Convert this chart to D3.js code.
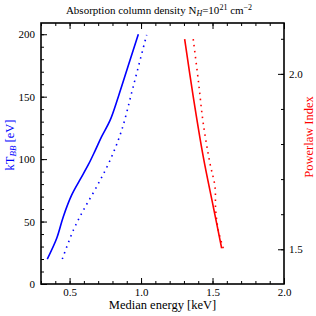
<!DOCTYPE html>
<html>
<head>
<meta charset="utf-8">
<script src="https://cdn.jsdelivr.net/npm/d3@7"></script>
<style>
  body { margin: 0; background: #fff; }
  svg text { font-family: "Liberation Serif", "DejaVu Serif", serif !important; }
</style>
</head>
<body>
<div id="chart"></div>
<script>
// blackbody temperature vs median energy
const bbSolidE  = [0.344, 0.410, 0.456, 0.515, 0.573, 0.631, 0.678, 0.724, 0.783, 0.841, 0.922, 0.981];
const bbSolidKT = [20, 36.6, 53.9, 71.3, 83.5, 95.5, 106.6, 118, 131, 150, 179, 200];
const bbDotE    = [0.449, 0.526, 0.596, 0.69, 0.783, 0.864, 0.945, 1.039];
const bbDotKT   = [20, 43, 59, 78, 99, 123, 158, 199.5];

// powerlaw index vs median energy
const plSolidE   = [1.305, 1.365, 1.435, 1.505, 1.564];
const plSolidIdx = [2.099, 1.935, 1.764, 1.622, 1.503];
const plDotE     = [1.365, 1.40, 1.435, 1.482, 1.517, 1.522, 1.54, 1.575];
const plDotIdx   = [2.099, 1.983, 1.859, 1.745, 1.679, 1.612, 1.555, 1.503];

const xTicks = [0.5, 1.0, 1.5, 2.0];
const yTicks = [0, 50, 100, 150, 200];
const y2Ticks = [1.5, 2.0];

const W = 316, H = 316;
const m = { left: 41, right: 32, top: 23, bottom: 32 };

const svg = d3.select('#chart').append('svg')
  .attr('width', W).attr('height', H);

const x = d3.scaleLinear().domain([0.3, 2.0]).range([m.left, W - m.right]);
const y = d3.scaleLinear().domain([0, 209]).range([H - m.bottom, m.top]);
const y2 = d3.scaleLinear().domain([1.401, 2.145]).range([H - m.bottom, m.top]);

const fmt1 = d3.format('.1f');

// axes: ticks inward
function styleAxis(g) {
  g.attr('font-family', null);
  g.select('.domain').remove();
  g.selectAll('line').attr('stroke', '#000').attr('stroke-width', 1);
  g.selectAll('text').attr('font-size', 11).attr('fill', '#000');
}

const xMinor = d3.range(0.3, 2.001, 0.1);
svg.append('g').attr('transform', `translate(0,${H - m.bottom})`)
  .call(d3.axisBottom(x).tickValues(xMinor).tickSize(-3).tickFormat(''))
  .call(styleAxis);
svg.append('g').attr('transform', `translate(0,${H - m.bottom})`)
  .call(d3.axisBottom(x).tickValues(xTicks).tickSize(-6).tickPadding(4).tickFormat(fmt1))
  .call(styleAxis);
svg.append('g').attr('transform', `translate(0,${m.top})`)
  .call(d3.axisTop(x).tickValues(xMinor).tickSize(-3).tickFormat(''))
  .call(styleAxis);
svg.append('g').attr('transform', `translate(0,${m.top})`)
  .call(d3.axisTop(x).tickValues(xTicks).tickSize(-6).tickFormat(''))
  .call(styleAxis);

svg.append('g').attr('transform', `translate(${m.left},0)`)
  .call(d3.axisLeft(y).tickValues(d3.range(0, 209, 10)).tickSize(-3).tickFormat(''))
  .call(styleAxis);
svg.append('g').attr('transform', `translate(${m.left},0)`)
  .call(d3.axisLeft(y).tickValues(yTicks).tickSize(-6).tickPadding(6).tickFormat(d3.format('d')))
  .call(styleAxis);

svg.append('g').attr('transform', `translate(${W - m.right},0)`)
  .call(d3.axisRight(y2).tickValues(d3.range(1.5, 2.15, 0.1)).tickSize(-3).tickFormat(''))
  .call(styleAxis);
svg.append('g').attr('transform', `translate(${W - m.right},0)`)
  .call(d3.axisRight(y2).tickValues(y2Ticks).tickSize(-6).tickPadding(5).tickFormat(fmt1))
  .call(styleAxis);

// frame
svg.append('rect')
  .attr('x', m.left).attr('y', m.top)
  .attr('width', W - m.left - m.right).attr('height', H - m.top - m.bottom)
  .attr('fill', 'none').attr('stroke', '#000').attr('stroke-width', 1.6);

const lineBB = d3.line().x(d => x(d[0])).y(d => y(d[1])).curve(d3.curveCatmullRom.alpha(0.5));
const linePL = d3.line().x(d => x(d[0])).y(d => y2(d[1])).curve(d3.curveCatmullRom.alpha(0.5));

function drawLine(gen, xs, ys, color, dotted) {
  svg.append('path')
    .datum(d3.zip(xs, ys))
    .attr('d', gen)
    .attr('fill', 'none')
    .attr('stroke', color)
    .attr('stroke-width', 1.6)
    .attr('stroke-dasharray', dotted ? '1.5,4.5' : null);
}

drawLine(lineBB, bbSolidE, bbSolidKT, '#0000ff', false);
drawLine(lineBB, bbDotE, bbDotKT, '#0000ff', true);
drawLine(linePL, plSolidE, plSolidIdx, '#ff0000', false);
drawLine(linePL, plDotE, plDotIdx, '#ff0000', true);

// title
const title = svg.append('text')
  .attr('x', 159).attr('y', 14)
  .attr('text-anchor', 'middle').attr('font-size', 11);
title.append('tspan').text('Absorption column density N');
title.append('tspan').attr('font-size', 8).attr('font-style', 'italic').attr('dy', 2).text('H');
title.append('tspan').attr('dy', -2).text('=10');
title.append('tspan').attr('font-size', 8).attr('dy', -4).text('21');
title.append('tspan').attr('dy', 4).text(' cm');
title.append('tspan').attr('font-size', 8).attr('dy', -4).text('\u22122');

// x label
svg.append('text')
  .attr('x', (m.left + W - m.right) / 2).attr('y', 309)
  .attr('text-anchor', 'middle').attr('font-size', 12.5)
  .text('Median energy [keV]');

// left label
const yl = svg.append('text')
  .attr('transform', 'translate(14,145) rotate(-90)')
  .attr('text-anchor', 'middle').attr('font-size', 12.5).attr('fill', '#0000ff');
yl.append('tspan').text('kT');
yl.append('tspan').attr('font-size', 9).attr('font-style', 'italic').attr('dy', 2).text('BB');
yl.append('tspan').attr('dy', -2).text(' [eV]');

// right label
svg.append('text')
  .attr('transform', 'translate(313,137) rotate(-90)')
  .attr('text-anchor', 'middle').attr('font-size', 12.5).attr('fill', '#ff0000')
  .text('Powerlaw Index');
</script>
</body>
</html>
